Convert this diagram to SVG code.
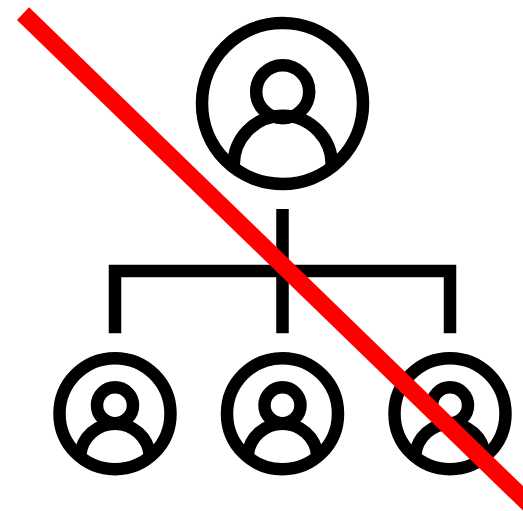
<svg xmlns="http://www.w3.org/2000/svg" width="523" height="511" viewBox="0 0 523 511">
<style>
.s{fill:none;stroke:#000;stroke-width:12.5}
</style>
<rect width="523" height="511" fill="#fff"/>
<g id="connectors" class="s">
<path d="M282.5 209V333.3M115 333.3V271H450V333.3"/>
</g>
<g id="node-top" class="s">
<circle cx="282.5" cy="103.5" r="80.5"/>
<circle cx="282.7" cy="91.7" r="26.5"/>
<path d="M233.8 167A49 49 0 1 1 331.7 167"/>
</g>
<g id="node-left" class="s">
<circle cx="115" cy="413.7" r="55.5"/>
<circle cx="115" cy="405.3" r="18"/>
<path d="M80.2 455A35 35 0 0 1 149.8 455"/>
</g>
<g id="node-middle" class="s">
<circle cx="282.5" cy="413.7" r="55.5"/>
<circle cx="282.5" cy="405.3" r="18"/>
<path d="M247.7 455A35 35 0 0 1 317.3 455"/>
</g>
<g id="node-right" class="s">
<circle cx="450" cy="413.7" r="55.5"/>
<circle cx="450" cy="405.3" r="18"/>
<path d="M415.2 455A35 35 0 0 1 484.8 455"/>
</g>
<path id="strike" d="M23 13.6L533 508" fill="none" stroke="#f00" stroke-width="17.5"/>
</svg>
